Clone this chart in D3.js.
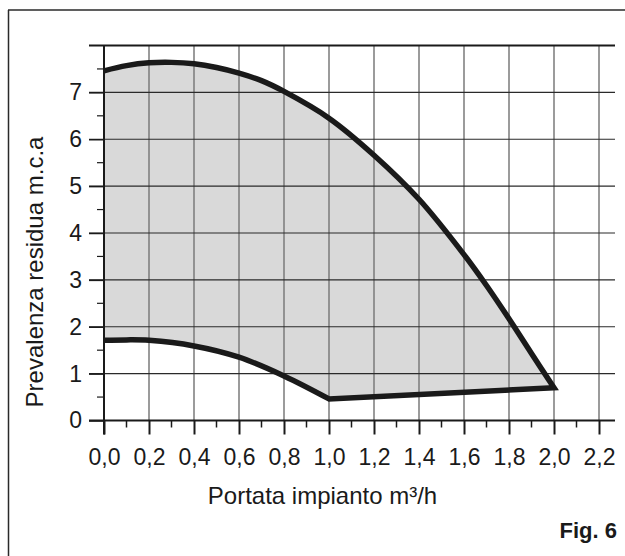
<!DOCTYPE html>
<html>
<head>
<meta charset="utf-8">
<script src="https://cdn.jsdelivr.net/npm/d3@7"></script>
<style>
  html, body { margin: 0; padding: 0; background: #fff; }
  svg { display: block; }
  text { font-family: "Liberation Sans", Arial, Helvetica, sans-serif; fill: #1a1a1a; }
</style>
</head>
<body>
<svg id="chart" width="625" height="556"></svg>
<script>
// ---- data ----
const upperFlow = [0.0, 0.1, 0.2, 0.3, 0.4, 0.5, 0.6, 0.7, 0.8, 1.0, 1.2, 1.4, 1.6, 1.7, 1.8, 1.9, 2.0];
const upperHead = [7.46, 7.57, 7.63, 7.64, 7.61, 7.53, 7.41, 7.25, 7.02, 6.45, 5.66, 4.72, 3.54, 2.88, 2.17, 1.43, 0.70];
const lowerFlow = [0.0, 0.1, 0.2, 0.4, 0.6, 0.8, 1.0, 2.0];
const lowerHead = [1.71, 1.72, 1.71, 1.59, 1.35, 0.95, 0.46, 0.70];
const xTickValues = [0, 0.2, 0.4, 0.6, 0.8, 1.0, 1.2, 1.4, 1.6, 1.8, 2.0, 2.2];
const xMinorValues = [0.1, 0.3, 0.5, 0.7, 0.9, 1.1, 1.3, 1.5, 1.7, 1.9, 2.1];
const yTickValues = [0, 1, 2, 3, 4, 5, 6, 7];
const yGridValues = [1, 2, 3, 4, 5, 6, 7, 8];
const yMinorValues = [0.5, 1.5, 2.5, 3.5, 4.5, 5.5, 6.5, 7.5];
const xTitle = "Portata impianto m³/h";
const yTitle = "Prevalenza residua m.c.a";
const figLabel = "Fig. 6";

// ---- layout ----
const svg = d3.select("#chart");
const x = d3.scaleLinear().domain([0, 2.2]).range([104, 599]);
const y = d3.scaleLinear().domain([0, 8]).range([420.5, 45.5]);
const gridLeft = 89, gridRight = 615;
const dark = "#1a1a1a";

// frame
svg.append("line").attr("x1", 8).attr("x2", 625).attr("y1", 10).attr("y2", 10)
  .attr("stroke", "#2a2a2a").attr("stroke-width", 1.5);
svg.append("line").attr("x1", 8.5).attr("x2", 8.5).attr("y1", 10).attr("y2", 556)
  .attr("stroke", "#2a2a2a").attr("stroke-width", 1.5);

const upperPts = upperFlow.map((f, i) => [f, upperHead[i]]);
const lowerPts = lowerFlow.map((f, i) => [f, lowerHead[i]]);
const lowerCurved = lowerPts.filter(p => p[0] <= 1.0);
const lowerStraight = lowerPts.filter(p => p[0] >= 1.0);

const curveLine = d3.line().x(d => x(d[0])).y(d => y(d[1])).curve(d3.curveCatmullRom.alpha(0.5));
const straightLine = d3.line().x(d => x(d[0])).y(d => y(d[1]));

const upperStr = curveLine(upperPts);
const straightRev = straightLine(lowerStraight.slice().reverse()).replace(/^M/, "L");
const curvedRev = curveLine(lowerCurved.slice().reverse()).replace(/^M/, "L");
const outline = upperStr + straightRev + curvedRev;

// fill
svg.append("path").attr("d", outline + "Z").attr("fill", "#d9d9d9").attr("stroke", "none");

// vertical grid
svg.append("g").selectAll("line").data(xTickValues.filter(v => v > 0)).join("line")
  .attr("x1", d => x(d)).attr("x2", d => x(d))
  .attr("y1", y(8)).attr("y2", y(0))
  .attr("stroke", "#7a7a7a").attr("stroke-width", 1.5);

// horizontal grid
svg.append("g").selectAll("line").data(yGridValues).join("line")
  .attr("x1", gridLeft).attr("x2", gridRight)
  .attr("y1", d => y(d)).attr("y2", d => y(d))
  .attr("stroke", d => d === 8 ? dark : "#2a2a2a")
  .attr("stroke-width", d => d === 8 ? 2.2 : 1.2);

// y axis
const yAxis = d3.axisLeft(y).tickValues(yTickValues).tickSize(15).tickPadding(7)
  .tickFormat(d3.format("d")).tickSizeOuter(0);
const gy = svg.append("g").attr("transform", `translate(${x(0)},0)`).call(yAxis);
gy.select(".domain").remove();
gy.selectAll(".tick line").attr("stroke", dark).attr("stroke-width", 1.5);
gy.selectAll(".tick text").attr("font-size", 23).attr("fill", dark)
  .style("font-family", "'Liberation Sans', Arial, sans-serif");

// y minor ticks
svg.append("g").selectAll("line").data(yMinorValues).join("line")
  .attr("x1", x(0) - 7).attr("x2", x(0))
  .attr("y1", d => y(d)).attr("y2", d => y(d))
  .attr("stroke", dark).attr("stroke-width", 1.2);

// x axis
const xAxis = d3.axisBottom(x).tickValues(xTickValues).tickSize(14).tickPadding(14)
  .tickFormat(d => d3.format(".1f")(d).replace(".", ",")).tickSizeOuter(0);
const gx = svg.append("g").attr("transform", `translate(0,${y(0)})`).call(xAxis);
gx.select(".domain").remove();
gx.selectAll(".tick line").attr("stroke", dark).attr("stroke-width", 2);
gx.selectAll(".tick text").attr("font-size", 23).attr("fill", dark)
  .style("font-family", "'Liberation Sans', Arial, sans-serif");

// x minor ticks
svg.append("g").selectAll("line").data(xMinorValues).join("line")
  .attr("x1", d => x(d)).attr("x2", d => x(d))
  .attr("y1", y(0)).attr("y2", y(0) + 7)
  .attr("stroke", dark).attr("stroke-width", 1.5);

// x axis baseline
svg.append("line").attr("x1", gridLeft).attr("x2", gridRight)
  .attr("y1", y(0)).attr("y2", y(0)).attr("stroke", dark).attr("stroke-width", 2);
// y axis line
svg.append("line").attr("x1", x(0)).attr("x2", x(0))
  .attr("y1", y(8)).attr("y2", y(0) + 14).attr("stroke", dark).attr("stroke-width", 2);

// curves
svg.append("path").attr("d", outline).attr("fill", "none")
  .attr("stroke", dark).attr("stroke-width", 5.5)
  .attr("stroke-linejoin", "miter").attr("stroke-linecap", "butt");

// titles
svg.append("text").attr("x", 322.5).attr("y", 504).attr("text-anchor", "middle")
  .attr("font-size", 24).text(xTitle);
svg.append("text").attr("transform", "translate(43,272) rotate(-90)")
  .attr("text-anchor", "middle").attr("font-size", 24).text(yTitle);
svg.append("text").attr("x", 617).attr("y", 537.5).attr("text-anchor", "end")
  .attr("font-size", 22).attr("font-weight", "bold").text(figLabel);
</script>
</body>
</html>
